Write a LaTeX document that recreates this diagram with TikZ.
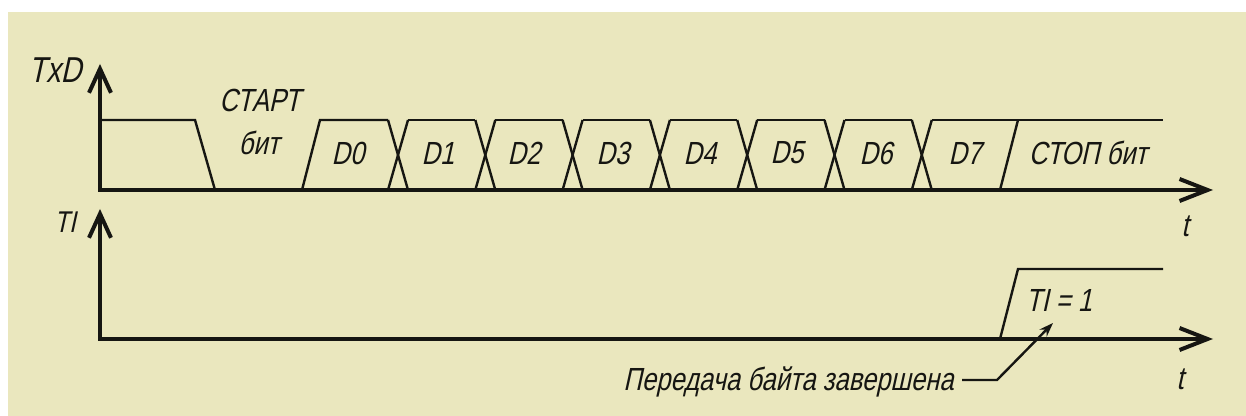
\documentclass[tikz,border=0pt]{standalone}
\usepackage{fontspec}
\setmainfont{Liberation Sans}[FakeStretch=0.8,FakeSlant=0.22]
\usetikzlibrary{arrows.meta}
\definecolor{paper}{RGB}{234,231,190}
\definecolor{ink}{RGB}{22,22,18}
\tikzset{
  axis/.style={line width=2pt, draw=ink, line join=miter,
    {Straight Barb[length=12pt,width=11pt]}-{Straight Barb[length=14pt,width=11pt]}},
  sig/.style={line width=1.2pt, draw=ink, line join=miter},
  lbl/.style={font=\fontsize{16}{18}\selectfont, text=ink, inner sep=0pt},
  leader/.style={line width=1.2pt, draw=ink, -{Stealth[length=7pt,width=5pt]}},
}
\begin{document}
\begin{tikzpicture}[x=0.5pt,y=-0.5pt]
\useasboundingbox (0,0) rectangle (1246,416);
\fill[white] (0,0) rectangle (1246,416);
\fill[paper] (8,12) rectangle (1246,416);

% axes coordinates
\coordinate (y1) at (100,64);
\coordinate (o1) at (100,190);
\coordinate (x1) at (1213,190);
\coordinate (y2) at (100,209);
\coordinate (o2) at (100,339);
\coordinate (x2) at (1213,339);

% TxD signal
\draw[sig] (100,120) -- (195,120) -- (215,190);
\draw[sig] (302,190) -- (320,120) -- (388,120);
\foreach \i in {0,...,6}{
  \pgfmathsetmacro{\c}{398+87.3*\i}
  \draw[sig] (\c-10,120) -- (\c+10,190);
  \draw[sig] (\c-10,190) -- (\c+10,120);
}
\foreach \i in {0,...,5}{
  \pgfmathsetmacro{\a}{398+87.3*\i+10}
  \pgfmathsetmacro{\b}{398+87.3*(\i+1)-10}
  \draw[sig] (\a,120) -- (\b,120);
}
\draw[sig] (931.8,120) -- (1163,120);
\draw[sig] (1000,190) -- (1018,120);

% TI signal
\draw[sig] (1000,339) -- (1018,269) -- (1163,269);

% axes
\draw[axis] (y1) -- (o1) -- (x1);
\draw[axis] (y2) -- (o2) -- (x2);

% labels
\node[lbl, font=\fontsize{18}{20}\selectfont] (txd) at (55,70) {TxD};
\node[lbl, font=\fontsize{15}{17}\selectfont] (ti) at (65,222) {TI};
\node[lbl] (start1) at (260,100) {СТАРТ};
\node[lbl] (start2) at (259,143) {бит};
\node[lbl] (d0) at (348,153) {D0};
\node[lbl] (d1) at (438,153) {D1};
\node[lbl] (d2) at (524,153) {D2};
\node[lbl] (d3) at (613,153) {D3};
\node[lbl] (d4) at (700,153) {D4};
\node[lbl] (d5) at (787,153) {D5};
\node[lbl] (d6) at (876,153) {D6};
\node[lbl] (d7) at (965,153) {D7};
\node[lbl] (stop) at (1088,153) {СТОП бит};
\node[lbl] (t1) at (1185,226) {t};
\node[lbl] (t2) at (1180,379) {t};
\node[lbl] (ti1) at (1059,300) {TI = 1};
\node[lbl, anchor=east] (done) at (954,382) {Передача байта завершена};

% leader
\coordinate (lk) at (997,380);
\coordinate (lt) at (1053,323);
\draw[leader] (done.east) ++(8,-2) -- (lk) -- (lt);
\end{tikzpicture}
\end{document}
